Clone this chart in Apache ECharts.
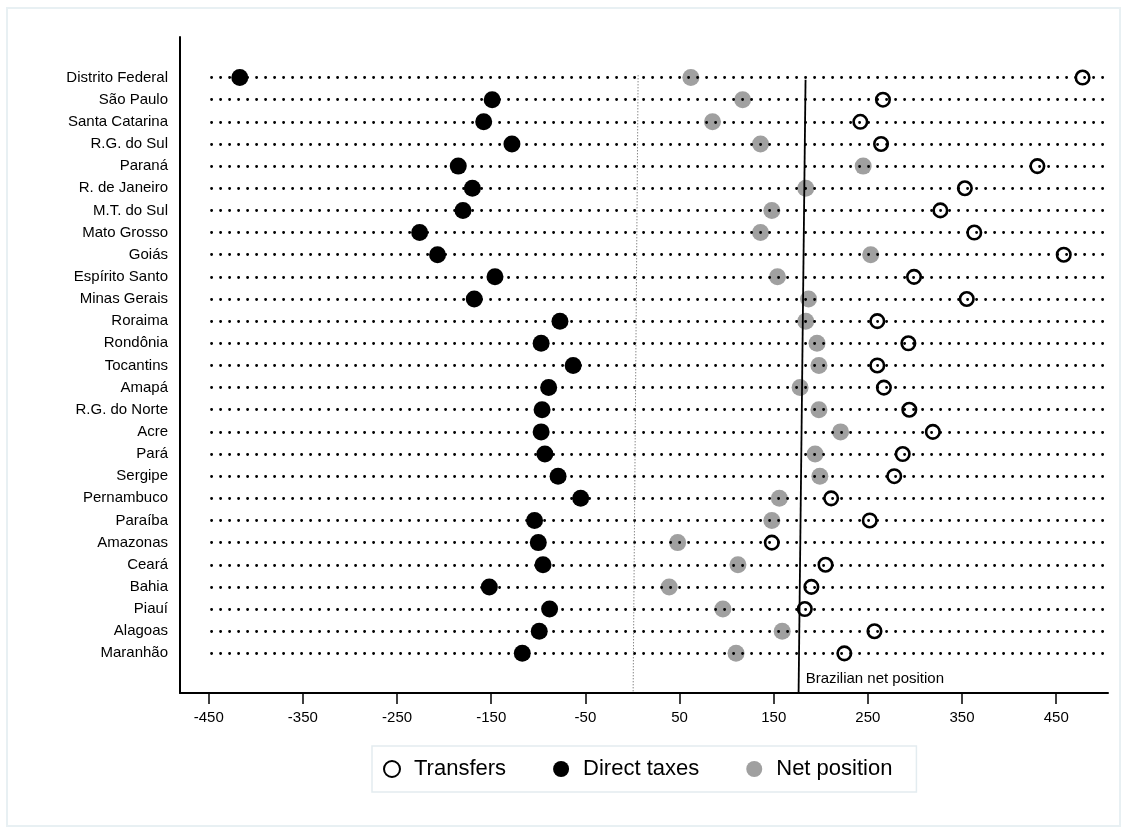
<!DOCTYPE html>
<html>
<head>
<meta charset="utf-8">
<script src="https://cdn.jsdelivr.net/npm/echarts@6/dist/echarts.min.js"></script>
<style>
html,body{margin:0;padding:0;background:#fff;}
#chart{width:1126px;height:827px;}
</style>
</head>
<body>
<div id="chart"></div>
<script>
const states = ['Distrito Federal','São Paulo','Santa Catarina','R.G. do Sul','Paraná','R. de Janeiro','M.T. do Sul','Mato Grosso','Goiás','Espírito Santo','Minas Gerais','Roraima','Rondônia','Tocantins','Amapá','R.G. do Norte','Acre','Pará','Sergipe','Pernambuco','Paraíba','Amazonas','Ceará','Bahia','Piauí','Alagoas','Maranhão'];
const transfers = [478, 266, 242, 264, 430, 353, 327, 363, 458, 299, 355, 260, 293, 260, 267, 294, 319, 287, 278, 211, 252, 148, 205, 190, 183, 257, 225];
const directTaxes = [-417, -149, -158, -128, -185, -170, -180, -226, -207, -146, -168, -77, -97, -63, -89, -96, -97, -93, -79, -55, -104, -100, -95, -152, -88, -99, -117];
const netPosition = [62, 117, 85, 136, 245, 184, 148, 136, 253, 154, 187, 184, 196, 198, 178, 198, 221, 194, 199, 156, 148, 48, 112, 39, 96, 159, 110];
const xTicks = [-450, -350, -250, -150, -50, 50, 150, 250, 350, 450];
const rowLineStart = -447;
const rowLineEnd = 500;
const zeroLine = [[6, -0.1], [0.7, 27.79]];
const brazilLine = [[183.8, 0.1], [176.4, 27.79]];
const brazilLabel = 'Brazilian net position';

const FONT = 'Liberation Sans, Arial, Helvetica, sans-serif';
const chart = echarts.init(document.getElementById('chart'), null, {renderer: 'canvas'});
const idx = states.map((_, i) => i);
const pts = arr => arr.map((v, i) => [v, i]);

const option = {
  animation: false,
  backgroundColor: '#fff',
  textStyle: {fontFamily: FONT},
  graphic: [{
    type: 'rect', silent: true, z: -10,
    shape: {x: 7, y: 8, width: 1113, height: 818},
    style: {fill: 'none', stroke: '#e8f0f3', lineWidth: 2}
  }],
  grid: {left: 180, right: 18, top: 37, bottom: 134, containLabel: false},
  legend: {
    data: ['Transfers', 'Direct taxes', 'Net position'],
    left: 372, top: 746, orient: 'horizontal',
    itemWidth: 34, itemHeight: 16, itemGap: 47,
    padding: [12, 24, 12, 11],
    borderColor: '#e3ecf0', borderWidth: 1.5,
    textStyle: {fontSize: 22, color: '#000', fontFamily: FONT}
  },
  xAxis: {
    type: 'value', min: -480.5, max: 505,
    axisLine: {show: true, onZero: false, lineStyle: {color: '#000', width: 2}},
    axisTick: {show: true, length: 11, customValues: xTicks, lineStyle: {color: '#000', width: 1.5}},
    axisLabel: {customValues: xTicks, color: '#000', fontSize: 15, margin: 17, fontFamily: FONT},
    splitLine: {show: false}
  },
  yAxis: {
    type: 'value', inverse: true, min: -1.83, max: 27.79,
    axisLine: {show: true, onZero: false, lineStyle: {color: '#000', width: 2}},
    axisTick: {show: false},
    axisLabel: {customValues: idx, formatter: v => states[Math.round(v)] || '', color: '#000', fontSize: 15, margin: 12, fontFamily: FONT},
    splitLine: {show: false}
  },
  series: [
    {
      name: 'rows', type: 'scatter', data: [], silent: true, z: 1,
      markLine: {
        silent: true, symbol: 'none', animation: false,
        label: {show: false},
        lineStyle: {color: '#000', width: 2.8, type: [0.1, 8.9], cap: 'round'},
        data: idx.map(i => [{coord: [rowLineStart, i]}, {coord: [rowLineEnd, i]}])
      }
    },
    {
      name: 'Net position', type: 'scatter', z: 3,
      symbol: 'circle', symbolSize: 17,
      itemStyle: {color: '#a0a0a0', opacity: 1},
      data: pts(netPosition)
    },
    {
      name: 'Direct taxes', type: 'scatter', z: 3,
      symbol: 'circle', symbolSize: 17,
      itemStyle: {color: '#000', opacity: 1},
      data: pts(directTaxes)
    },
    {
      name: 'Transfers', type: 'scatter', z: 3,
      symbol: 'circle', symbolSize: 13.5,
      itemStyle: {color: '#fff', borderColor: '#000', borderWidth: 2.6, opacity: 1},
      data: pts(transfers)
    },
    {
      name: 'refs', type: 'scatter', data: [], silent: true, z: 5,
      markLine: {
        silent: true, symbol: 'none', animation: false,
        label: {show: false},
        data: [
          [{coord: zeroLine[0], lineStyle: {color: '#555', width: 1, type: [1, 2]}}, {coord: zeroLine[1]}],
          [{coord: brazilLine[0], lineStyle: {color: '#000', width: 1.8, type: 'solid'}}, {coord: brazilLine[1]}]
        ]
      },
      markPoint: {
        silent: true, animation: false,
        symbol: 'circle', symbolSize: 1,
        itemStyle: {color: 'rgba(0,0,0,0)'},
        label: {show: true, position: 'right', distance: 6, color: '#000', fontSize: 15, fontFamily: FONT, formatter: brazilLabel},
        data: [{coord: [177, 27.16]}]
      }
    }
  ]
};
chart.setOption(option);
</script>
</body>
</html>
